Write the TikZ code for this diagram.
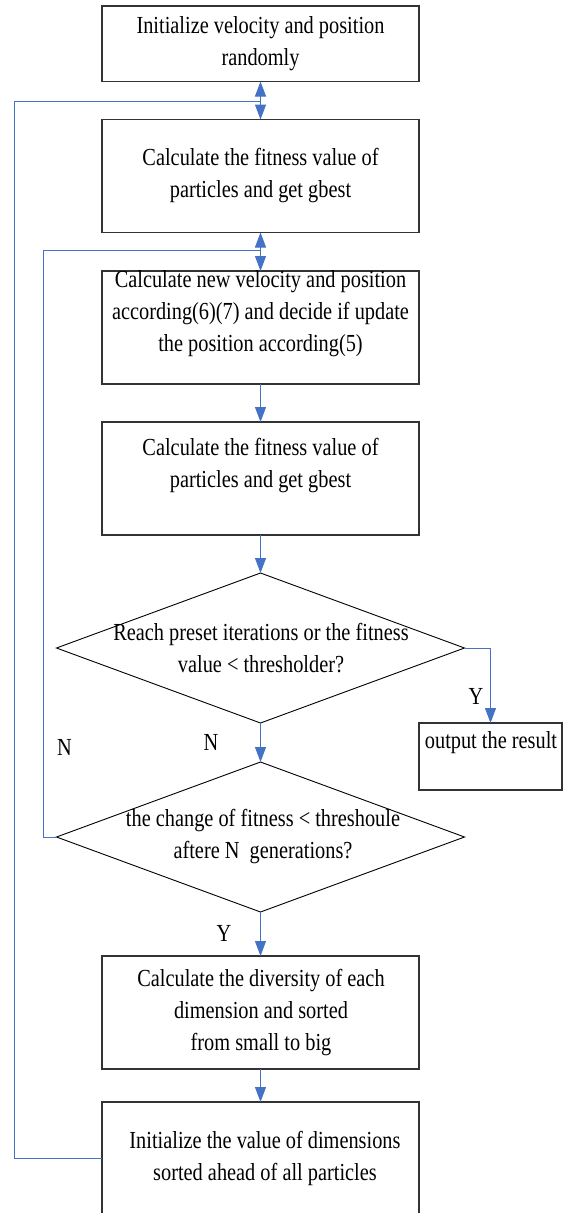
\documentclass[tikz,border=0pt]{standalone}
\usepackage{fontspec}
\setmainfont{Liberation Serif}
\newfontfamily\condfont[FakeStretch=0.83]{Liberation Serif}
\usetikzlibrary{shapes.geometric,arrows.meta}
\definecolor{flowblue}{RGB}{68,114,196}
\begin{document}
\begin{tikzpicture}[x=1pt,y=-1pt,
  box/.style={draw=black!80,line width=1.1pt,rectangle,minimum width=317pt,inner sep=0pt,outer sep=0pt},
  dia/.style={draw=black,line width=0.9pt,diamond,minimum width=408pt,minimum height=150pt,inner sep=0pt,outer sep=0pt},
  txt/.style={align=center,inner sep=0pt,font=\condfont\fontsize{24.5}{32}\selectfont},
  lbl/.style={inner sep=0pt,font=\condfont\fontsize{24.5}{28}\selectfont},
  conn/.style={draw=flowblue,line width=1pt},
  arr/.style={conn,-{Triangle[length=15pt,width=11pt]}}]
\useasboundingbox (0,0) rectangle (565,1213);
\clip (0,0) rectangle (565,1213);
% boxes
\node[box,minimum height=75.5pt] (b1) at (260.5,43.75) {};
\node[box,minimum height=113pt] (b2) at (260.5,176) {};
\node[box,minimum height=113pt] (b3) at (260.5,327.5) {};
\node[box,minimum height=113pt] (b4) at (260.5,478.5) {};
\node[dia] (d1) at (260.5,648) {};
\node[dia] (d2) at (260.5,837) {};
\node[box,minimum width=143pt,minimum height=67pt] (out) at (490.5,756.5) {};
\node[box,minimum height=113pt] (b5) at (260.5,1012.5) {};
\node[box,minimum height=113pt] (b6) at (260.5,1158.5) {};
% texts
\node[txt] (t1) at (260.5,43.5) {Initialize velocity and position\\randomly};
\node[txt] (t2) at (260.5,176) {Calculate the fitness value of\\particles and get gbest};
\node[txt] (t3) at (260.5,314) {Calculate new velocity and position\\according(6)(7) and decide if update\\the position according(5)};
\node[txt] (t4) at (260.5,466) {Calculate the fitness value of\\particles and get gbest};
\node[txt] (td1) at (261,648) {Reach preset iterations or the fitness\\value {\textless} thresholder?};
\node[txt] (td2) at (263,836.5) {the change of fitness {\textless} threshoule\\aftere N\ \ generations?};
\node[txt] (tout) at (491,743) {output the result};
\node[txt] (t5) at (261,1012.5) {Calculate the diversity of each\\dimension and sorted\\from small to big};
\node[txt] (t6) at (265,1158) {Initialize the value of dimensions\\sorted ahead of all particles};
% labels
\node[lbl] (y1) at (476,696) {Y};
\node[lbl] (n1) at (211,742) {N};
\node[lbl] (n2) at (64.5,747) {N};
\node[lbl] (y2) at (224,933) {Y};
% junctions
\coordinate (j1) at (260.5,101);
\coordinate (j2) at (260.5,250);
\coordinate (L1) at (14,101);
\coordinate (L2) at (43,250);
% connectors
\draw[conn] (b6.west) -| (L1) -- (j1);
\draw[arr] (j1) -- (b1.south);
\draw[arr] (j1) -- (b2.north);
\draw[conn] (d2.west) -| (L2) -- (j2);
\draw[arr] (j2) -- (b2.south);
\draw[arr] (j2) -- (b3.north);
\draw[arr] (b3.south) -- (b4.north);
\draw[arr] (b4.south) -- (d1.north);
\draw[arr] (d1.east) -| (out.north);
\draw[arr] (d1.south) -- (d2.north);
\draw[arr] (d2.south) -- (b5.north);
\draw[arr] (b5.south) -- (b6.north);
\end{tikzpicture}
\end{document}
